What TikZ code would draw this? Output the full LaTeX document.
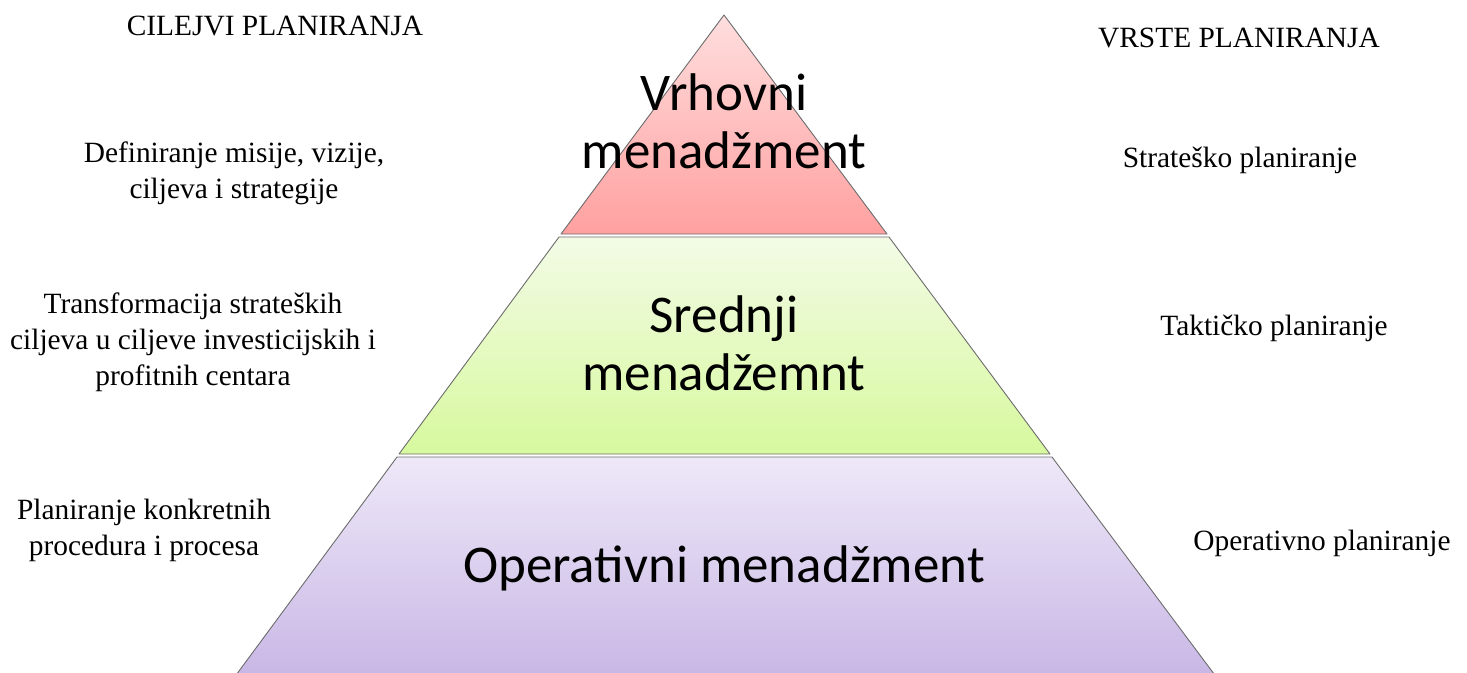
\documentclass[tikz,border=0pt]{standalone}
\usepackage{fontspec}
\setmainfont{Liberation Serif}
\newfontfamily\calibrifont{Carlito}
\usetikzlibrary{positioning}

\begin{document}
\begin{tikzpicture}[x=1pt, y=-1pt,
	layer/.style={draw=gray!85!black, line width=0.9pt, line join=round},
	level/.style={font=\calibrifont\fontsize{53}{58}\selectfont, align=center, anchor=base, inner sep=0pt},
	side/.style={font=\fontsize{29.4}{36}\selectfont, align=center, anchor=base, inner sep=0pt}]
	\useasboundingbox (0,0) rectangle (1467,672);
	\clip (0,0) rectangle (1467,672);

	% pyramid corners
	\coordinate (apex) at (724,15);
	\coordinate (t1) at (561,234);   \coordinate (t2) at (887,234);
	\coordinate (m1) at (559,237);   \coordinate (m2) at (889,237);
	\coordinate (m3) at (399,454);   \coordinate (m4) at (1050,454);
	\coordinate (b1) at (397,457);   \coordinate (b2) at (1052,457);
	\coordinate (b3) at (225,690);   \coordinate (b4) at (1226,690);

	\path[layer, top color={rgb,255:red,255;green,222;blue,222}, bottom color={rgb,255:red,255;green,160;blue,160}]
		(apex) -- (t2) -- (t1) -- cycle;
	\path[layer, top color={rgb,255:red,243;green,251;blue,230}, bottom color={rgb,255:red,215;green,249;blue,158}]
		(m1) -- (m2) -- (m4) -- (m3) -- cycle;
	\path[layer, top color={rgb,255:red,238;green,232;blue,248}, bottom color={rgb,255:red,198;green,180;blue,228}]
		(b1) -- (b2) -- (b4) -- (b3) -- cycle;

	% levels (base = last line)
	\node[level] (vrh) at (724,168) {Vrhovni\\menadžment};
	\node[level] (sred) at (724,390) {Srednji\\menadžemnt};
	\node[level] (oper) at (724,582) {Operativni menadžment};

	% left column
	\node[side] (ciljevi) at (275,35) {CILEJVI PLANIRANJA};
	\node[side] (cilj1) at (234,198) {Definiranje misije, vizije,\\ciljeva i strategije};
	\node[side] (cilj2) at (193,385) {Transformacija strateških\\ciljeva u ciljeve investicijskih i\\profitnih centara};
	\node[side] (cilj3) at (144,555) {Planiranje konkretnih\\procedura i procesa};

	% right column
	\node[side] (vrste) at (1239,47) {VRSTE PLANIRANJA};
	\node[side] (vrsta1) at (1240,167) {Strateško planiranje};
	\node[side] (vrsta2) at (1274,335) {Taktičko planiranje};
	\node[side] (vrsta3) at (1322,550) {Operativno planiranje};
\end{tikzpicture}
\end{document}
